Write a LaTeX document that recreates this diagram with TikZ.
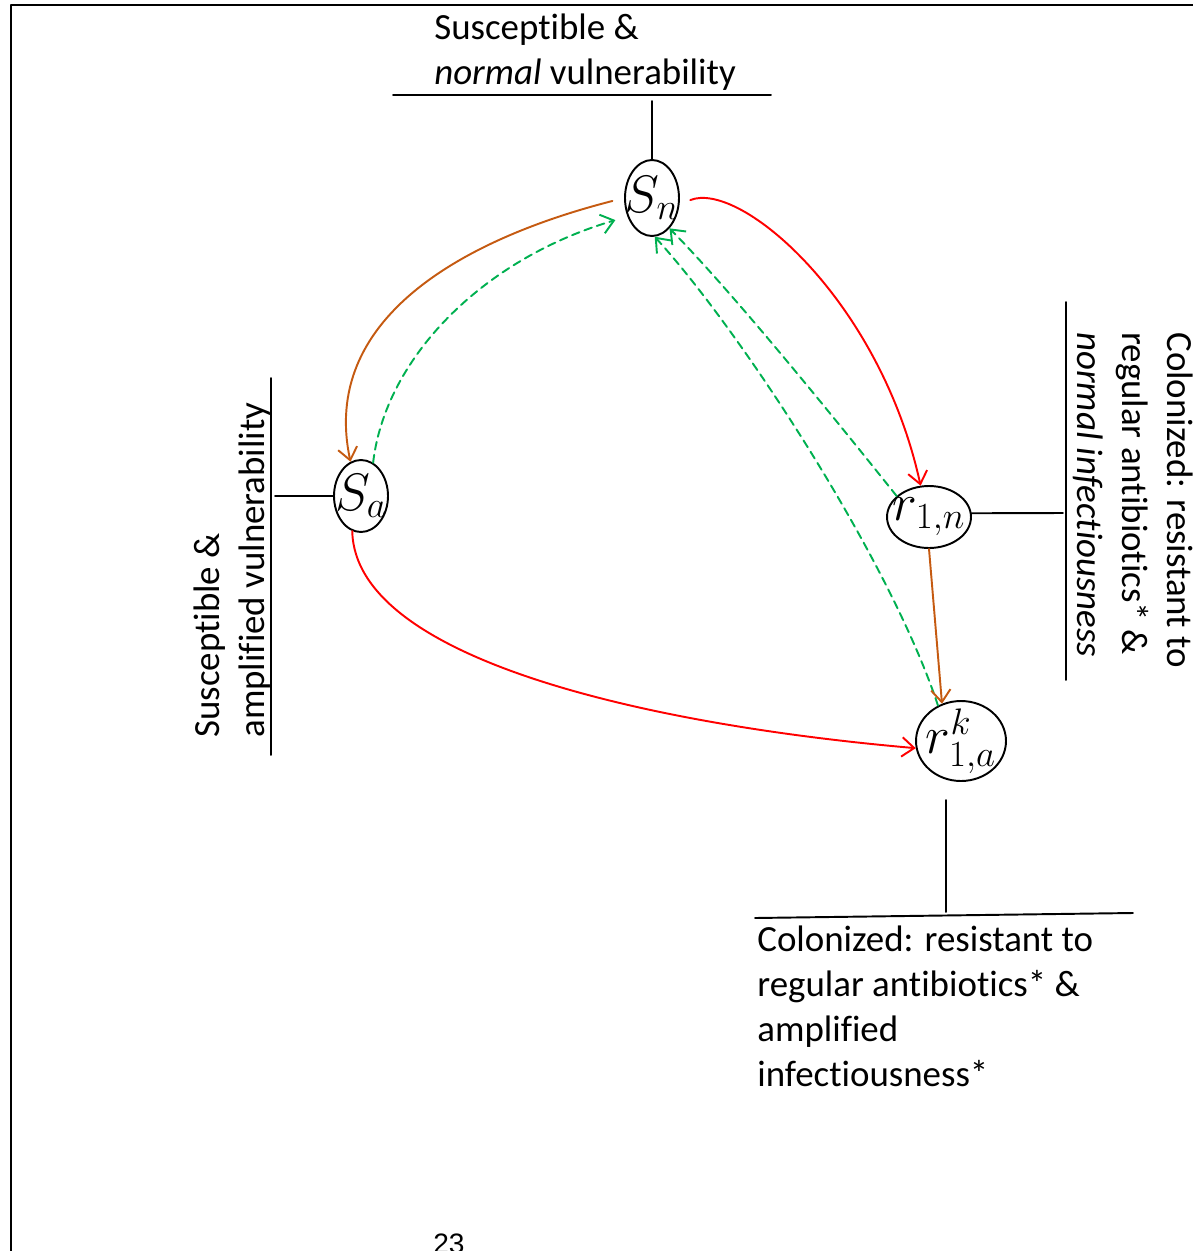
\documentclass[tikz,border=0pt]{standalone}
\usepackage{fix-cm}
\usepackage{fontspec}
\setmainfont{Carlito}[Ligatures=NoCommon]
\newfontfamily\pagefont{Liberation Sans}
\usetikzlibrary{arrows.meta,shapes.geometric}
\definecolor{flowred}{RGB}{255,0,0}
\definecolor{flowgreen}{RGB}{0,176,80}
\definecolor{floworange}{RGB}{197,90,17}
\begin{document}
\begin{tikzpicture}[x=0.02cm,y=-0.02cm,line join=round,line cap=round,>={Straight Barb[length=7pt,width=11pt]}]
	\tikzset{compartment/.style={draw,ellipse,line width=1.1pt,inner sep=0pt},
		statelabel/.style={font=\fontsize{30}{30}\selectfont,inner sep=0pt},
		desc/.style={font=\fontsize{21}{25.6}\selectfont,align=left,inner sep=0pt},
		leader/.style={line width=1.1pt},
		flow/.style={->,line width=1.1pt},
		backflow/.style={->,line width=1.1pt,flowgreen,dash pattern=on 4.5pt off 3pt}}
	\useasboundingbox (0,0) rectangle (1193,1251);
	\clip (0,0) rectangle (1193,1251);
	\draw[line width=1.4pt] (11,1260) -- (11,5) -- (1200,5);
	% compartments
	\node[compartment,minimum width=1.08cm,minimum height=1.52cm,label={[statelabel]center:$S_n$}] (sn) at (652,198) {};
	\node[compartment,minimum width=1.08cm,minimum height=1.44cm,label={[statelabel]center:$S_a$}] (sa) at (361,496) {};
	\node[compartment,minimum width=1.68cm,minimum height=1.24cm,label={[statelabel]center:$r_{1,n}$}] (rn) at (929,517) {};
	\node[compartment,minimum width=1.8cm,minimum height=1.6cm,label={[statelabel]center:$r^k_{1,a}$}] (ra) at (961,741) {};
	% descriptions
	\node[desc,anchor=north west] (toptext) at (434,14) {Susceptible \&\\\textit{normal} vulnerability};
	\node[desc,anchor=north west,rotate=90] (lefttext) at (194,738) {Susceptible \&\\amplified vulnerability};
	\node[desc,anchor=north west,rotate=-90] (righttext) at (1193,332) {Colonized: resistant to\\regular antibiotics* \&\\\textit{normal infectiousness}};
	\node[desc,anchor=north west] (bottomtext) at (757,926) {Colonized: resistant to\\regular antibiotics* \&\\amplified\\infectiousness*};
	\node[font=\pagefont\fontsize{16}{16}\selectfont,anchor=base west,inner sep=0pt] (pagenum) at (433,1253) {23};
	% leaders
	\draw[leader] (393,95) -- (771,95);
	\draw[leader] (sn.north) -- (652,101);
	\draw[leader] (sa.west) -- (275,496);
	\draw[leader] (271,378) -- (271,755);
	\draw[leader] (rn.5) -- (1063,513);
	\draw[leader] (1066,302) -- (1066,680);
	\draw[leader] (946,800) -- (946,912);
	\draw[leader] (755,918) -- (1133,913);
	% flows
	\draw[flow,floworange,shorten <=0.24cm] (sn.180) .. controls (460,240) and (320,320) .. (sa.107);
	\draw[backflow,shorten >=0.25cm] (sa.70) .. controls (385,360) and (480,260) .. (sn.217);
	\draw[flow,flowred,shorten <=0.23cm] (sn.347) .. controls (740,180) and (880,300) .. (rn.105);
	\draw[backflow] (rn.147) .. controls (820,400) and (730,290) .. (sn.300);
	\draw[backflow] (ra.123) .. controls (890,560) and (740,330) .. (sn.274);
	\draw[flow,floworange] (rn.270) -- (ra.117);
	\draw[flow,flowred] (sa.256) .. controls (355,660) and (650,725) .. (ra.189);
\end{tikzpicture}
\end{document}
